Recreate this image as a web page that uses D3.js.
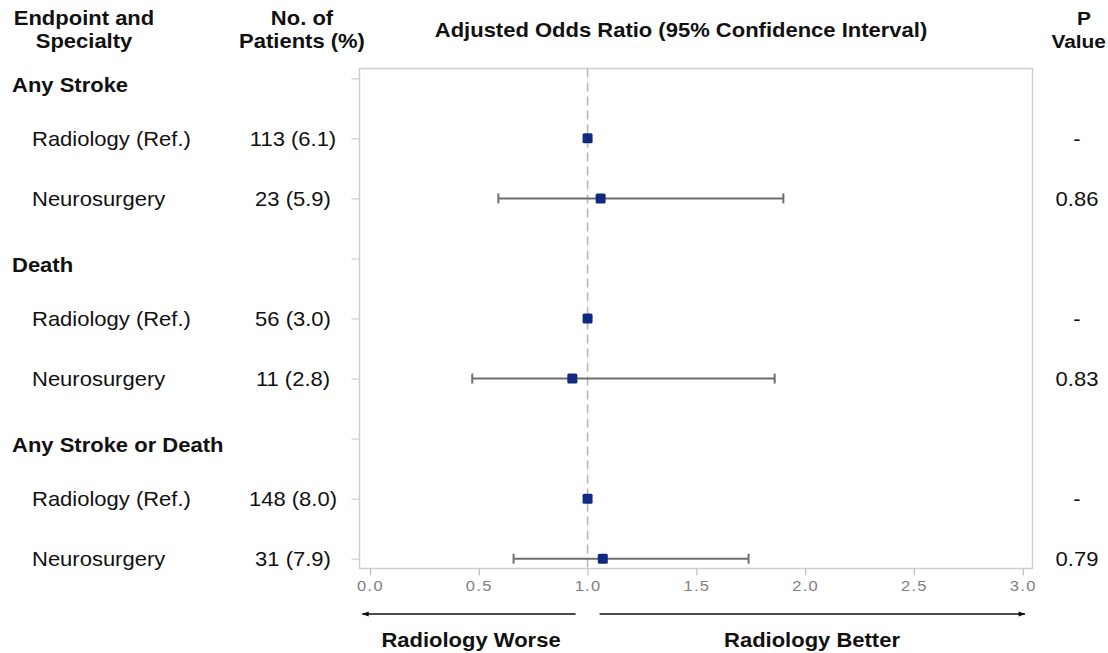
<!DOCTYPE html>
<html>
<head>
<meta charset="utf-8">
<script src="https://cdn.jsdelivr.net/npm/d3@7"></script>
<style>
  html, body { margin: 0; padding: 0; background: #fff; }
  svg { display: block; font-family: "Liberation Sans", Arial, Helvetica, sans-serif; }
</style>
</head>
<body>
<svg id="chart" width="1108" height="653"></svg>
<script>
// Endpoints and the two specialties compared within each
const endpoints = ["Any Stroke", "Death", "Any Stroke or Death"];
const specialties = ["Radiology (Ref.)", "Neurosurgery"];

// One entry per specialty row, in endpoint order
const patients = ["113 (6.1)", "23 (5.9)", "56 (3.0)", "11 (2.8)", "148 (8.0)", "31 (7.9)"];
const oddsRatio = [1.0, 1.06, 1.0, 0.93, 1.0, 1.07];
const ciLow = [null, 0.59, null, 0.47, null, 0.66];
const ciHigh = [null, 1.90, null, 1.86, null, 1.74];
const pValues = ["-", "0.86", "-", "0.83", "-", "0.79"];

const xTicks = [0, 0.5, 1, 1.5, 2, 2.5, 3];
const refValue = 1.0;

// Flatten into display rows: a header row per endpoint followed by its specialties
const rows = [];
let k = 0;
endpoints.forEach((ep, gi) => {
  rows.push({ id: "h" + gi, type: "header", label: ep });
  specialties.forEach(sp => {
    rows.push({
      id: "r" + k, type: "item", label: sp,
      n: patients[k], or: oddsRatio[k], lo: ciLow[k], hi: ciHigh[k], p: pValues[k]
    });
    k++;
  });
});

const svg = d3.select("#chart");
const frame = { left: 359.5, right: 1032.5, top: 68.5, bottom: 568.5 };

const x = d3.scaleLinear().domain([0, 3]).range([370, 1022.7]);
const y = d3.scalePoint().domain(rows.map(r => r.id)).range([78.3, 558.7]);

const FS = 20;
const SX = 1.1;          // text is set slightly wide
const navy = "#0f2a80";

// Place a text at (px, py) with the horizontal widening applied
const place = (px, py) => `translate(${px},${py}) scale(${SX},1)`;

// Plot frame
svg.append("rect")
  .attr("x", frame.left).attr("y", frame.top)
  .attr("width", frame.right - frame.left).attr("height", frame.bottom - frame.top)
  .attr("fill", "none").attr("stroke", "#cfcfcf").attr("stroke-width", 1.5);

// Y ticks (no labels; row text sits in the columns to the left)
const yAxis = svg.append("g")
  .attr("transform", `translate(${frame.left},0)`)
  .call(d3.axisLeft(y).tickSize(8).tickFormat(""));
yAxis.select(".domain").remove();
yAxis.selectAll(".tick line").attr("stroke", "#cfcfcf").attr("stroke-width", 1.2);

// X axis
const xAxis = svg.append("g")
  .attr("transform", `translate(0,${frame.bottom})`)
  .call(d3.axisBottom(x).tickValues(xTicks).tickFormat(d3.format(".1f")).tickSize(7).tickPadding(5));
xAxis.select(".domain").remove();
xAxis.selectAll(".tick line").attr("stroke", "#bdbdbd").attr("stroke-width", 1.2);
xAxis.selectAll(".tick text")
  .attr("fill", "#7f7f7f").attr("font-size", 15).attr("letter-spacing", 1.2)
  .attr("font-family", "'Liberation Sans', Arial, sans-serif")
  .attr("transform", `scale(${SX},1)`);

// Reference line at OR = 1
svg.append("line")
  .attr("x1", x(refValue)).attr("x2", x(refValue))
  .attr("y1", frame.top).attr("y2", frame.bottom)
  .attr("stroke", "#b4b4b4").attr("stroke-width", 1.5).attr("stroke-dasharray", "9,5");

// Confidence intervals with end caps
const items = rows.filter(r => r.type === "item");
const ci = svg.append("g").selectAll("g").data(items.filter(r => r.lo != null)).join("g")
  .attr("stroke", "#6f6f6f").attr("stroke-width", 2);
ci.append("line").attr("x1", d => x(d.lo)).attr("x2", d => x(d.hi))
  .attr("y1", d => y(d.id)).attr("y2", d => y(d.id));
ci.append("line").attr("x1", d => x(d.lo)).attr("x2", d => x(d.lo))
  .attr("y1", d => y(d.id) - 5).attr("y2", d => y(d.id) + 5);
ci.append("line").attr("x1", d => x(d.hi)).attr("x2", d => x(d.hi))
  .attr("y1", d => y(d.id) - 5).attr("y2", d => y(d.id) + 5);

// Point estimates
const ms = 10;
svg.append("g").selectAll("rect").data(items).join("rect")
  .attr("x", d => x(d.or) - ms / 2).attr("y", d => y(d.id) - ms / 2)
  .attr("width", ms).attr("height", ms).attr("rx", 1.5)
  .attr("fill", navy);

// Column headers
function header(lines, cx, y0, anchor, size) {
  const t = svg.append("text").attr("font-weight", "bold").attr("font-size", size || FS)
    .attr("fill", "#111").attr("text-anchor", anchor || "middle")
    .attr("transform", place(cx, y0));
  lines.forEach((s, i) => t.append("tspan").attr("x", 0).attr("y", i * 23).text(s));
}
header(["Endpoint and", "Specialty"], 84, 25);
header(["No. of", "Patients (%)"], 302, 25);
header(["Adjusted Odds Ratio (95% Confidence Interval)"], 681, 37);
header(["P"], 1084, 25, "middle", 19);
header(["", "Value"], 1106, 25, "end", 19);

// Row labels
const labels = svg.append("g");
labels.selectAll("text.lab").data(rows).join("text")
  .attr("class", "lab")
  .attr("transform", d => place(d.type === "header" ? 12 : 32, y(d.id) + (d.type === "header" ? 6 : 0)))
  .attr("dy", "0.36em")
  .attr("font-size", FS)
  .attr("font-weight", d => d.type === "header" ? "bold" : "normal")
  .attr("fill", "#111")
  .text(d => d.label);

labels.selectAll("text.n").data(items).join("text")
  .attr("class", "n")
  .attr("transform", d => place(293, y(d.id))).attr("dy", "0.36em")
  .attr("text-anchor", "middle").attr("font-size", FS).attr("fill", "#111")
  .text(d => d.n);

labels.selectAll("text.p").data(items).join("text")
  .attr("class", "p")
  .attr("transform", d => place(1077, y(d.id))).attr("dy", "0.36em")
  .attr("text-anchor", "middle").attr("font-size", FS).attr("fill", "#111")
  .text(d => d.p);

// Direction arrows below the axis
const defs = svg.append("defs");
defs.append("marker").attr("id", "arrow").attr("viewBox", "0 0 10 10")
  .attr("refX", 9).attr("refY", 5).attr("markerWidth", 10).attr("markerHeight", 7)
  .attr("markerUnits", "userSpaceOnUse").attr("orient", "auto-start-reverse")
  .append("path").attr("d", "M0,1.5 L10,5 L0,8.5 Z").attr("fill", "#111");

const arrowY = 614;
svg.append("line").attr("x1", x(0.945)).attr("x2", x(-0.035)).attr("y1", arrowY).attr("y2", arrowY)
  .attr("stroke", "#111").attr("stroke-width", 1.5).attr("marker-end", "url(#arrow)");
svg.append("line").attr("x1", x(1.055)).attr("x2", x(3.01)).attr("y1", arrowY).attr("y2", arrowY)
  .attr("stroke", "#111").attr("stroke-width", 1.5).attr("marker-end", "url(#arrow)");

svg.append("text").attr("transform", place(471, 647)).attr("text-anchor", "middle")
  .attr("font-weight", "bold").attr("font-size", FS).attr("fill", "#111").text("Radiology Worse");
svg.append("text").attr("transform", place(812, 647)).attr("text-anchor", "middle")
  .attr("font-weight", "bold").attr("font-size", FS).attr("fill", "#111").text("Radiology Better");
</script>
</body>
</html>
